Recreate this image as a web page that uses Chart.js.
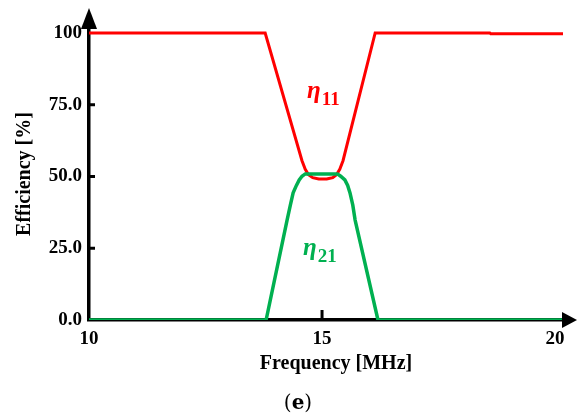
<!DOCTYPE html>
<html><head><meta charset="utf-8">
<script src="https://cdn.jsdelivr.net/npm/chart.js@4/dist/chart.umd.min.js"></script>
<style>html,body{margin:0;padding:0;background:#fff;} #wrap{width:577px;height:416px;position:relative;}</style>
</head><body><div id="wrap"><canvas id="c" width="577" height="416"></canvas></div>
<script>
// ---- data ----
const freqRed = [10, 13.78, 14.57, 14.64, 14.71, 14.80, 14.93, 15.10, 15.23, 15.31, 15.38, 15.45, 16.14, 18.6, 18.62, 20.17];
const eta11   = [100, 100, 55.5, 52.5, 50.6, 49.6, 49.1, 49.1, 49.6, 50.6, 52.5, 55.5, 100, 100, 99.7, 99.7];
const freqGreen = [10, 13.80, 14.25, 14.32, 14.38, 14.45, 14.51, 14.57, 14.64, 15.33, 15.40, 15.49, 15.55, 15.60, 15.66, 15.71, 16.20, 20.17];
const eta21     = [0, 0, 34.8, 40.0, 44.3, 46.9, 48.8, 50.1, 50.9, 50.9, 50.1, 48.8, 46.9, 44.3, 40.0, 34.8, 0, 0];
const xTicks = [10, 15, 20];
const xTickLabels = ['10', '15', '20'];
const yTicks = [0, 25, 50, 75, 100];
const yTickLabels = ['0.0', '25.0', '50.0', '75.0', '100'];
const xTitle = 'Frequency [MHz]';
const yTitle = 'Efficiency [%]';
const seriesLabels = [['η', '11'], ['η', '21']];
const labelPos = [[14.68, 77.4], [14.59, 22.8]];
const caption = ['(', 'e', ')'];

const RED = '#ff0000', GREEN = '#00b050';
const SERIF = '"Liberation Serif", "Times New Roman", serif';

const extras = {
  id: 'extras',
  afterDatasetsDraw(chart) {
    const {ctx, chartArea: a, scales: {x, y}} = chart;
    ctx.save();
    ctx.strokeStyle = '#000'; ctx.fillStyle = '#000'; ctx.lineWidth = 3;
    // inner tick marks
    yTicks.forEach(v => { if (v > 0 && v < 100) { const py = y.getPixelForValue(v); ctx.beginPath(); ctx.moveTo(a.left, py); ctx.lineTo(a.left + 6, py); ctx.stroke(); } });
    xTicks.forEach(v => { if (v > 10 && v < 20) { const px = x.getPixelForValue(v); ctx.beginPath(); ctx.moveTo(px, a.bottom); ctx.lineTo(px, a.bottom - 10); ctx.stroke(); } });
    // arrow heads
    ctx.beginPath(); ctx.moveTo(a.left, a.top - 20); ctx.lineTo(a.left - 8, a.top + 1); ctx.lineTo(a.left + 8, a.top + 1); ctx.closePath(); ctx.fill();
    ctx.beginPath(); ctx.moveTo(a.right + 14, a.bottom); ctx.lineTo(a.right - 1, a.bottom - 8); ctx.lineTo(a.right - 1, a.bottom + 8); ctx.closePath(); ctx.fill();
    // x axis title
    ctx.font = 'bold 20px ' + SERIF; ctx.textAlign = 'center'; ctx.textBaseline = 'middle';
    ctx.fillText(xTitle, 336, 364);
    // series labels
    [RED, GREEN].forEach((col, i) => {
      const px = x.getPixelForValue(labelPos[i][0]), py = y.getPixelForValue(labelPos[i][1]);
      ctx.fillStyle = col; ctx.textBaseline = 'alphabetic'; ctx.textAlign = 'left';
      ctx.font = 'italic bold 25px ' + SERIF;
      ctx.fillText(seriesLabels[i][0], px, py);
      const w = ctx.measureText(seriesLabels[i][0]).width;
      ctx.font = 'bold 19px ' + SERIF;
      ctx.fillText(seriesLabels[i][1], px + w + 1, py + 7);
    });
    // caption
    ctx.fillStyle = '#000'; ctx.textBaseline = 'middle'; ctx.textAlign = 'left';
    const CF = '"DejaVu Serif", serif';
    const fN = '20px ' + CF, fB = 'bold 20px ' + CF;
    ctx.font = fN; const w1 = ctx.measureText(caption[0]).width, w3 = ctx.measureText(caption[2]).width;
    ctx.font = fB; const w2 = ctx.measureText(caption[1]).width;
    let cx = 298 - (w1 + w2 + w3) / 2; const cy = 404;
    ctx.font = fN; ctx.fillText(caption[0], cx, cy); cx += w1;
    ctx.font = fB; ctx.fillText(caption[1], cx, cy); cx += w2;
    ctx.font = fN; ctx.fillText(caption[2], cx, cy);
    ctx.restore();
  }
};

new Chart(document.getElementById('c'), {
  type: 'line',
  data: {
    datasets: [
      { data: freqRed.map((f, i) => ({x: f, y: eta11[i]})), borderColor: RED, borderWidth: 3, pointRadius: 0, tension: 0, fill: false, order: 2 },
      { data: freqGreen.map((f, i) => ({x: f, y: eta21[i]})), borderColor: GREEN, borderWidth: 3.5, pointRadius: 0, tension: 0, fill: false, order: 1 }
    ]
  },
  options: {
    responsive: false, animation: false, devicePixelRatio: 1,
    layout: { padding: { top: 28, right: 14, left: 0, bottom: 0 } },
    plugins: { legend: { display: false }, tooltip: { enabled: false } },
    scales: {
      x: {
        type: 'linear', min: 10, max: 20.17,
        afterBuildTicks: s => { s.ticks = xTicks.map(v => ({value: v})); },
        afterFit: s => { s.height = 96; s.paddingLeft = 0; s.paddingRight = 0; },
        grid: { display: false, drawTicks: false },
        border: { display: true, color: '#000', width: 3.5 },
        ticks: { color: '#000', padding: 8, maxRotation: 0, autoSkip: false, font: { family: SERIF, size: 19, weight: 'bold' }, callback: (v) => xTickLabels[xTicks.indexOf(v)] },
        title: { display: false }
      },
      y: {
        type: 'linear', min: 0, max: 101.74,
        afterBuildTicks: s => { s.ticks = yTicks.map(v => ({value: v})); },
        afterFit: s => { s.width = 89; s.paddingTop = 0; s.paddingBottom = 0; },
        grid: { display: false, drawTicks: false },
        border: { display: true, color: '#000', width: 3.5 },
        ticks: { color: '#000', padding: 7, autoSkip: false, font: { family: SERIF, size: 19, weight: 'bold' }, callback: (v) => yTickLabels[yTicks.indexOf(v)] },
        title: { display: true, text: yTitle, color: '#000', font: { family: SERIF, size: 20, weight: 'bold' }, padding: { top: 13, bottom: 0 } }
      }
    }
  },
  plugins: [extras]
});
</script></body></html>
